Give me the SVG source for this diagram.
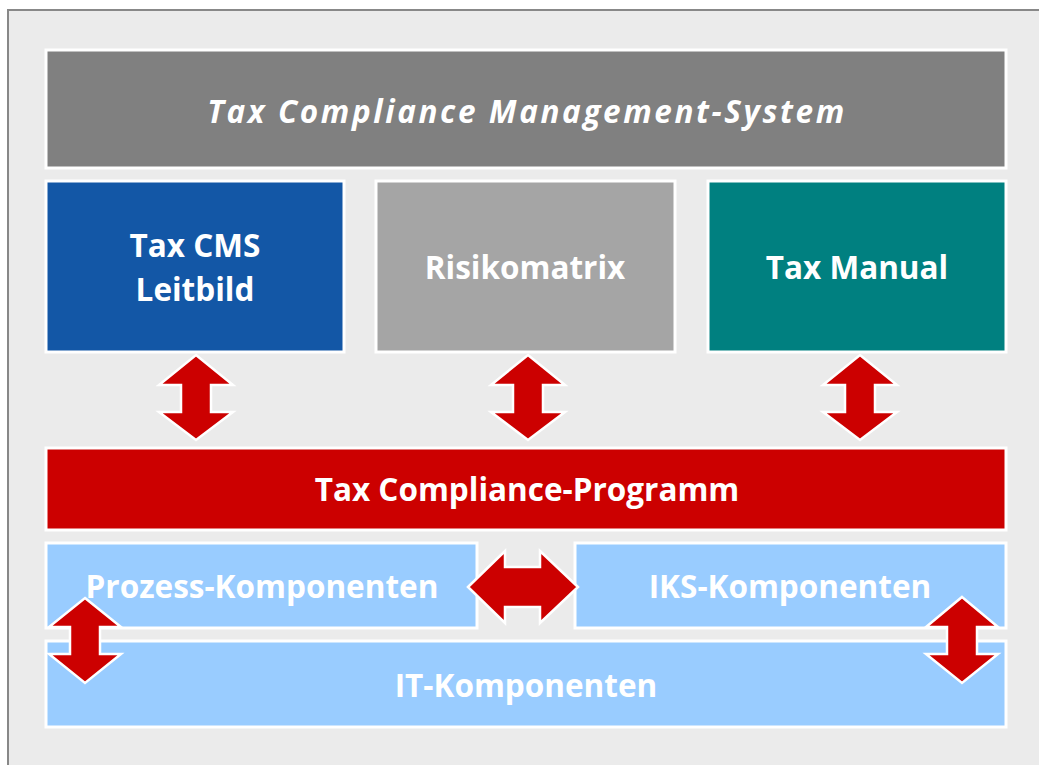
<svg xmlns="http://www.w3.org/2000/svg" width="1039" height="765" viewBox="0 0 1039 765">
<defs>
<style>
.box{stroke:#fff;stroke-width:3}
.lbl{font-family:"Open Sans","DejaVu Sans",sans-serif;font-weight:bold;fill:#fff;text-anchor:middle;font-size:31.5px}
.arr{fill:#cc0000;stroke:#fff;stroke-width:2.5;stroke-linejoin:miter}
</style>
</defs>
<rect x="0" y="0" width="1039" height="765" fill="#fff"/>
<rect x="8" y="10" width="1040" height="770" fill="#ebebeb" stroke="#888" stroke-width="2"/>
<g id="tcms">
<rect class="box" x="46" y="50" width="960" height="118" fill="#808080"/>
<text class="lbl" x="527" y="123" font-style="italic" font-size="41" letter-spacing="2.6">Tax Compliance Management-System</text>
</g>
<g id="leitbild">
<rect class="box" x="46" y="181" width="298" height="171" fill="#1357a6"/>
<text class="lbl" x="195" y="257">Tax CMS</text>
<text class="lbl" x="195" y="301">Leitbild</text>
</g>
<g id="risikomatrix">
<rect class="box" x="376" y="181" width="299" height="171" fill="#a5a5a5"/>
<text class="lbl" x="525" y="279">Risikomatrix</text>
</g>
<g id="manual">
<rect class="box" x="708" y="181" width="298" height="171" fill="#008080"/>
<text class="lbl" x="857" y="279">Tax Manual</text>
</g>
<g id="programm">
<rect class="box" x="46" y="448" width="960" height="82" fill="#cc0000"/>
<text class="lbl" x="527" y="501">Tax Compliance-Programm</text>
</g>
<g id="prozess">
<rect class="box" x="46" y="543" width="431" height="85" fill="#99ccff"/>
<text class="lbl" x="262" y="598">Prozess-Komponenten</text>
</g>
<g id="iks">
<rect class="box" x="575" y="543" width="431" height="85" fill="#99ccff"/>
<text class="lbl" x="790" y="598">IKS-Komponenten</text>
</g>
<g id="it">
<rect class="box" x="46" y="641" width="960" height="86" fill="#99ccff"/>
<text class="lbl" x="526" y="697">IT-Komponenten</text>
</g>
<g id="connectors">
<path class="arr" d="M196,355 L233,385 L211,385 L211,412 L233,412 L196,440 L159,412 L181,412 L181,385 L159,385 Z"/>
<path class="arr" d="M528,355 L565,385 L543,385 L543,412 L565,412 L528,440 L491,412 L513,412 L513,385 L491,385 Z"/>
<path class="arr" d="M860,355 L897,385 L875,385 L875,412 L897,412 L860,440 L823,412 L845,412 L845,385 L823,385 Z"/>
<path class="arr" d="M468,587 L505,551 L505,567 L540,567 L540,551 L578,587 L540,623 L540,607 L505,607 L505,623 Z"/>
<path class="arr" d="M85,598 L121,627 L100,627 L100,654 L121,654 L85,683 L49,654 L70,654 L70,627 L49,627 Z"/>
<path class="arr" d="M962,597 L998,627 L977,627 L977,654 L998,654 L962,683 L926,654 L947,654 L947,627 L926,627 Z"/>
</g>
</svg>
